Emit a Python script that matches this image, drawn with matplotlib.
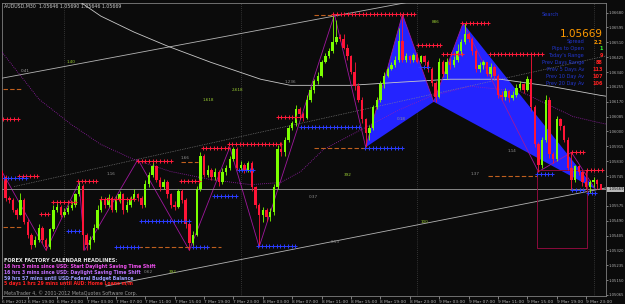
import matplotlib
matplotlib.use("Agg")
import matplotlib.pyplot as plt
import numpy as np

# AUDUSD M30, 6-9 Mar 2012 -- price levels below are pips above BASE
BASE = 1.0502
PIP = 0.0001

open0 = 75
close_p = [72, 60, 59, 53, 50, 59, 46, 39, 33, 36, 43, 36, 32, 42, 53, 55, 50, 52, 54, 56,
           62, 67, 39, 33, 36, 43, 53, 59, 56, 60, 53, 59, 62, 53, 56, 59, 62, 60, 56, 68,
           73, 78, 70, 66, 69, 62, 56, 55, 64, 59, 45, 34, 39, 65, 84, 73, 76, 72, 75, 69,
           75, 77, 82, 88, 77, 79, 76, 80, 66, 56, 50, 53, 49, 52, 66, 88, 86, 93, 100, 103,
           111, 108, 106, 116, 122, 127, 130, 138, 141, 144, 149, 152, 151, 146, 141, 132, 124, 116, 105, 97,
           100, 112, 116, 125, 130, 134, 136, 139, 150, 139, 141, 139, 142, 138, 141, 138, 134, 126, 118, 138,
           131, 138, 136, 139, 144, 149, 154, 151, 144, 134, 136, 138, 131, 135, 130, 119, 118, 121, 117, 119,
           123, 125, 122, 128, 112, 91, 79, 93, 116, 85, 82, 105, 101, 93, 77, 70, 78, 75, 69, 66,
           69, 70, 68, 64.7]
high_p = [76, 73, 61, 60, 54, 63, 60, 48, 40, 38, 45, 44, 37, 43, 56, 57, 56, 54, 56, 58,
          63, 69, 68, 40, 38, 45, 56, 61, 60, 62, 61, 61, 64, 63, 58, 61, 65, 63, 61, 70,
          75, 81, 79, 72, 71, 70, 63, 58, 65, 65, 60, 46, 41, 67, 86, 85, 79, 77, 77, 76,
          77, 79, 84, 89, 89, 81, 80, 81, 81, 67, 57, 55, 54, 54, 68, 90, 92, 95, 102, 104,
          113, 112, 109, 119, 124, 128, 132, 139, 143, 146, 165, 162, 154, 154, 148, 142, 138, 126, 118, 106,
          102, 113, 118, 127, 132, 135, 138, 141, 157, 165, 143, 142, 143, 143, 142, 142, 139, 135, 127, 140,
          139, 140, 140, 141, 148, 151, 160, 155, 152, 145, 138, 139, 138, 137, 136, 131, 121, 123, 122, 121,
          125, 127, 126, 130, 143, 113, 92, 95, 119, 118, 86, 107, 106, 102, 95, 86, 79, 79, 76, 76,
          70, 72, 71, 68]
low_p = [70, 58, 57, 52, 48, 50, 45, 37, 31, 32, 35, 34, 30, 31, 41, 52, 49, 49, 51, 53,
         55, 61, 30, 30, 31, 35, 42, 52, 54, 55, 52, 52, 57, 51, 52, 55, 58, 58, 54, 55,
         66, 72, 69, 64, 65, 60, 54, 53, 54, 57, 43, 30, 32, 38, 64, 72, 72, 70, 70, 67,
         68, 73, 76, 81, 76, 76, 74, 75, 64, 54, 32, 46, 47, 47, 50, 65, 84, 84, 92, 99,
         101, 107, 104, 105, 115, 120, 125, 129, 137, 140, 143, 148, 150, 145, 139, 131, 122, 115, 103, 89,
         93, 99, 111, 115, 123, 129, 133, 135, 138, 138, 138, 137, 138, 137, 137, 136, 132, 124, 115, 117,
         129, 128, 134, 135, 138, 142, 148, 149, 142, 132, 132, 134, 130, 129, 128, 117, 116, 116, 115, 116,
         118, 122, 120, 121, 110, 89, 75, 77, 92, 83, 80, 81, 99, 92, 76, 65, 69, 73, 67, 65,
         63, 66, 65, 65]

# time axis (bar index -> label)
time_ticks = [0, 7, 15, 23, 31, 39, 47, 55, 63, 71, 79, 87, 95, 103, 111, 119, 127, 135, 143, 151, 159]
time_labels = ["6 Mar 2012", "6 Mar 19:00", "6 Mar 23:00", "7 Mar 03:00", "7 Mar 07:00", "7 Mar 11:00",
               "7 Mar 15:00", "7 Mar 19:00", "7 Mar 23:00", "8 Mar 03:00", "8 Mar 07:00", "8 Mar 11:00",
               "8 Mar 15:00", "8 Mar 19:00", "8 Mar 23:00", "9 Mar 03:00", "9 Mar 07:00", "9 Mar 11:00",
               "9 Mar 15:00", "9 Mar 19:00", "9 Mar 23:00"]
day_breaks = [17, 65, 113, 161]
price_ticks = [1.05065 + k * 0.00085 for k in range(20)]
bid = 1.05669

# harmonic pattern points (bar, pips)
pat_bar = [99, 109, 117.5, 125.5, 161.5]
pat_lvl = [89, 165, 115, 160, 65]

# zigzag
zz_bar = [0, 12, 21, 22.5, 37, 51, 62, 70, 90.5, 99, 109, 117.5, 125.5, 146, 155, 161.5]
zz_lvl = [75, 30, 69, 30, 82, 30, 89, 32, 165, 89, 165, 115, 160, 75, 86, 65]

# moving averages / trend lines (bar, pips)
ma_grey_bar = [20.1, 26.9, 35.9, 45.1, 56.8, 70.4, 78.5, 94.8, 108.4, 122, 135.6, 149.2, 162.8, 165]
ma_grey_lvl = [173.8, 164, 154.9, 146.8, 137.6, 127.9, 124.4, 124.4, 126.2, 127.9, 127.9, 123.9, 118.7, 118]
ma_purple_bar = [0, 10.1, 18.8, 26.9, 35.9, 45.9, 56.8, 67.7, 75.8, 81.3, 87.5, 98.9, 108.4, 116.6, 127.4, 141, 155.4, 162.2, 165]
ma_purple_lvl = [143.4, 116.4, 102.1, 90.6, 82, 75.1, 70.5, 67.6, 68.8, 75.1, 87.7, 100.3, 110.7, 118.1, 123.9, 121, 106.6, 103.2, 102]
chan_up = ([0, 112.5], [128.5, 172.7])
chan_mid = ([3.3, 165], [66.5, 141.5])
chan_low = ([28.3, 165], [9.6, 66.0])

# fractal levels: (start bar, end bar, pips)
res_levels = [(0.3, 4.3, 104.9), (4.6, 10.1, 72.8), (10.6, 13.3, 51.0), (13.9, 20.1, 57.9), (20.7, 26.1, 69.9),
              (26.9, 35.9, 59.6), (37.0, 46.5, 81.4), (48.6, 54.1, 69.9), (54.6, 62.2, 88.3), (61.7, 76.6, 91.1),
              (75.0, 81.3, 106.1), (90.2, 113.0, 165.2), (113.3, 120.1, 147.4), (120.1, 125.3, 142.2),
              (125.3, 132.9, 160.0), (132.9, 147.0, 142.2), (155.2, 158.7, 86.0), (159.2, 163.3, 76.2)]
sup_levels = [(0.5, 7.3, 71.6), (17.9, 20.9, 41.2), (31.0, 37.0, 32.0), (37.8, 50.8, 46.9), (51.9, 56.8, 32.0),
              (57.6, 64.1, 61.3), (64.4, 69.0, 76.2), (69.8, 80.7, 32.6), (81.3, 98.1, 100.3), (98.9, 109.0, 88.8),
              (113.9, 116.6, 134.8), (145.7, 150.0, 73.4), (155.2, 158.7, 64.7), (159.5, 162.2, 63.0)]
pivot_levels = [(0.3, 5.2, 122.1), (0.3, 5.2, 43.5), (48.6, 53.3, 80.8), (37.0, 59.5, 32.0),
                (84.8, 90.2, 164.6), (84.8, 99.5, 88.3), (132.3, 145.7, 72.8)]
box = (145.7, 159.2, 31.5, 76.2)

# small fib / pattern labels: (bar, pips, text, colour)
tags = [(5.2, 132.5, "0.41", "#a0a0a0"), (17.5, 137.6, "1.40", "#9acd32"), (54.5, 115.8, "1.618", "#9acd32"),
        (62.5, 121.6, "2.618", "#9acd32"), (28.5, 73.5, "1.16", "#909090"), (48.5, 83.0, "1.66", "#909090"),
        (77.0, 126.5, "1.236", "#909090"), (107.5, 104.9, "0.18", "#909090"), (117.0, 160.5, "886", "#9acd32"),
        (93.0, 73.0, "392", "#9acd32"), (83.5, 60.5, "0.37", "#909090"), (127.5, 73.5, "1.37", "#909090"),
        (137.5, 87.0, "1.14", "#909090"), (89.5, 35.0, "0.53", "#909090"), (114.0, 46.0, "100", "#9acd32"),
        (45.5, 17.6, "392", "#9acd32"), (38.5, 17.6, "0.62", "#909090")]

lv = lambda p: BASE + np.asarray(p, dtype=float) * PIP

fig = plt.figure(figsize=(6.25, 3.04), dpi=100, facecolor="#0b0b0b")
ax = fig.add_axes([2 / 625, 1 - 296 / 304, 604 / 625, 293 / 304], facecolor="#0b0b0b")
ax.set_xlim(0.27, 164.4)
ax.set_ylim(1.05059, 1.06735)

for b in day_breaks:
    ax.axvline(b, color="#5a5a5a", lw=0.5, ls=(0, (1, 2)), zorder=1)

# harmonic triangles
ax.fill(pat_bar[:3], lv(pat_lvl[:3]), color="#2424ff", lw=0, zorder=2)
ax.fill(pat_bar[2:], lv(pat_lvl[2:]), color="#2424ff", lw=0, zorder=2)

# trend lines and averages
ax.plot(chan_up[0], lv(chan_up[1]), color="#b4b4b4", lw=0.6, zorder=3)
ax.plot(chan_low[0], lv(chan_low[1]), color="#b4b4b4", lw=0.6, zorder=3)
ax.plot(chan_mid[0], lv(chan_mid[1]), color="#8c8c8c", lw=0.5, ls=(0, (1, 1.5)), zorder=3)
ax.plot(ma_grey_bar, lv(ma_grey_lvl), color="#c8c8c8", lw=0.6, zorder=3)
ax.plot(ma_purple_bar, lv(ma_purple_lvl), color="#9b1fb0", lw=0.6, ls=(0, (1, 1.5)), zorder=3)
ax.plot(zz_bar, lv(zz_lvl), color="#a0179e", lw=0.6, zorder=3)
ax.axhline(bid, color="#9a9a9a", lw=0.6, zorder=3)

for s, e, p in pivot_levels:
    ax.plot([s, e], lv([p, p]), color="#c0601e", lw=0.8, ls=(0, (4, 2)), zorder=3)
ax.plot([box[0], box[1], box[1], box[0], box[0]], lv([box[3], box[3], box[2], box[2], box[3]]),
        color="#8b0a3c", lw=0.7, zorder=3)

# candles
opens = [open0] + close_p[:-1]
for i in range(len(close_p)):
    o, c = opens[i], close_p[i]
    col = "#7cff00" if c >= o else "#ff1437"
    ax.vlines(i, lv(low_p[i]), lv(high_p[i]), color=col, lw=0.6, zorder=4)
    ax.bar(i, lv(max(abs(c - o), 0.6)) - BASE, bottom=lv(min(o, c)), width=0.66, color=col, lw=0, zorder=5)

for s, e, p in res_levels:
    xs = np.arange(s, e + 0.01, 1.0)
    ax.plot(xs, lv(np.full(len(xs), p)), color="#ff1a3a", lw=0.5, marker="+", ms=2.2, mew=0.7, zorder=6)
for s, e, p in sup_levels:
    xs = np.arange(s, e + 0.01, 1.0)
    ax.plot(xs, lv(np.full(len(xs), p)), color="#2a3cff", lw=0.5, marker="+", ms=2.2, mew=0.7, zorder=6)

for b, p, t, c in tags:
    ax.text(b, lv(p), t, color=c, fontsize=3, ha="left", va="center", zorder=7)

# axes
for sp in ax.spines.values():
    sp.set_color("#808080")
    sp.set_linewidth(0.6)
ax.set_xticks(time_ticks)
ax.set_xticklabels(time_labels)
ax.set_yticks(price_ticks)
# the bid label box covers the tick label next to it, as in the terminal
ax.set_yticklabels(["" if abs(v - bid) < 0.0003 else "%.5f" % v for v in price_ticks])
ax.tick_params(axis="x", colors="#b0b0b0", labelsize=3.2, length=2, width=0.5, pad=1)
ax.tick_params(axis="y", colors="#b0b0b0", labelsize=2.7, length=1.5, width=0.5, pad=0.6,
               left=False, right=True, labelleft=False, labelright=True)
for lab in ax.get_xticklabels():
    lab.set_horizontalalignment("left")
ax.text(1.0035, bid, "%.5f" % bid, transform=ax.get_yaxis_transform(), fontsize=2.7, color="#101010",
        ha="left", va="center", bbox=dict(boxstyle="square,pad=0.2", fc="#b8b8b8", ec="none"), zorder=8)


def px(x, y):
    return x / 625, 1 - y / 304


fig.text(*px(4, 6), "AUDUSD,M30  1.05646 1.05690 1.05646 1.05669", color="#c8c8c8", fontsize=3.4, va="center")

# info panel
fig.text(*px(542, 15), "Search", color="#2236d0", fontsize=3.6, va="center")
fig.text(*px(603, 34), "1.05669", color="#ff9a00", fontsize=7.5, ha="right", va="center")
info_names = ["Spread", "Pips to Open", "Today's Range", "Prev Days Range", "Prev 5 Days Av",
              "Prev 10 Day Av", "Prev 20 Day Av"]
info_vals = ["2.2", "1", "9", "88", "113", "107", "106"]
info_cols = ["#ff9a00", "#33ff33", "#ff2020", "#ff2020", "#ff2020", "#ff2020", "#ff2020"]
for k in range(len(info_names)):
    y = 42 + k * 6.9
    fig.text(*px(584, y), info_names[k], color="#2236d0", fontsize=3.6, ha="right", va="center")
    fig.text(*px(603, y), info_vals[k], color=info_cols[k], fontsize=3.6, ha="right", va="center",
             fontweight="bold")

# news panel
news = ["16 hrs 3 mins since USD: Start Daylight Saving Time Shift",
        "16 hrs 3 mins since USD: Daylight Saving Time Shift",
        "59 hrs 57 mins until USD:Federal Budget Balance",
        "5 days 1 hrs 29 mins until AUD: Home Loans m/m"]
news_cols = ["#f050f0", "#c070ff", "#9a9aff", "#ff2020"]
fig.text(*px(4, 260), "FOREX FACTORY CALENDAR HEADLINES:", color="#e8e8e8", fontsize=3.6,
         fontweight="bold", va="center")
for k in range(len(news)):
    fig.text(*px(4, 266.5 + k * 5.8), news[k], color=news_cols[k], fontsize=3.3, fontweight="bold", va="center")
fig.text(*px(4, 293), "MetaTrader 4, \u00a9 2001-2012 MetaQuotes Software Corp.", color="#9a9a9a",
         fontsize=3.4, va="center")

fig.savefig("out.png", dpi=100, facecolor=fig.get_facecolor())
